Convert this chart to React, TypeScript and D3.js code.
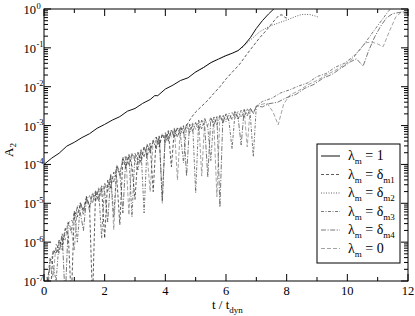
import * as d3 from "d3";

// time grid for the noisy early phase (t / t_dyn)
const NOISE_T = [
	0.1, 0.2, 0.3, 0.4, 0.5, 0.6, 0.7, 0.8, 0.9, 1.0,
	1.1, 1.2, 1.3, 1.4, 1.5, 1.6, 1.7, 1.8, 1.9, 2.0,
	2.1, 2.2, 2.3, 2.4, 2.5, 2.6, 2.7, 2.8, 2.9, 3.0,
	3.1, 3.2, 3.3, 3.4, 3.5, 3.6, 3.7, 3.8, 3.9, 4.0,
	4.1, 4.2, 4.3, 4.4, 4.5, 4.6, 4.7, 4.8, 4.9, 5.0,
	5.1, 5.2, 5.3, 5.4, 5.5, 5.6, 5.7, 5.8, 5.9, 6.0,
	6.1, 6.2, 6.3, 6.4, 6.5, 6.6, 6.7, 6.8, 6.9, 7.0,
];

// all amplitudes are log10(A2)
const L1_DATA: [number, number][] = [
	[0, -4.0], [0.25, -3.84], [0.5, -3.71], [0.75, -3.53], [1.0, -3.43], [1.25, -3.31],
	[1.5, -3.21], [1.75, -3.07], [2.0, -2.97], [2.25, -2.86], [2.5, -2.77], [2.75, -2.63],
	[3.0, -2.56], [3.25, -2.43], [3.5, -2.33], [3.65, -2.23], [3.75, -2.23], [4.0, -2.06],
	[4.25, -1.96], [4.5, -1.84], [4.75, -1.77], [5.0, -1.62], [5.25, -1.51], [5.5, -1.38],
	[5.75, -1.29], [6.0, -1.2], [6.2, -1.14], [6.4, -1.07], [6.6, -0.93], [6.8, -0.74],
	[7.0, -0.5], [7.2, -0.3], [7.4, -0.13], [7.6, 0.02],
];

const D2_DATA: [number, number][] = [
	[5.0, -1.63], [5.3, -1.49], [5.6, -1.34], [5.9, -1.23], [6.2, -1.14], [6.4, -1.07],
	[6.56, -0.98], [6.8, -0.8], [7.12, -0.58], [7.35, -0.48], [7.55, -0.41], [7.8, -0.34],
	[8.05, -0.27], [8.3, -0.19], [8.5, -0.14], [8.75, -0.14], [8.9, -0.17], [9.05, -0.21],
];

const D1_NOISE = [
	-6.9, -7.5, -6.2, -6.3, -5.95, -6.1, -5.65, -5.8, -7.5, -5.2,
	-5.35, -5.0, -5.2, -4.85, -5.05, -7.5, -4.7, -4.95, -4.6, -5.9,
	-4.4, -4.6, -4.2, -4.35, -5.55, -3.85, -4.1, -3.75, -4.05, -4.9,
	-3.7, -3.95, -3.55, -3.8, -3.45, -4.7, -3.3, -3.55, -3.22, -3.45,
	-3.15, -4.06, -3.08, -3.3, -3.03, -3.2, -3.0,
];
const D1_GROWTH: [number, number][] = [
	[4.85, -2.8], [5.0, -2.65], [5.2, -2.5], [5.4, -2.35], [5.6, -2.17], [5.8, -2.0],
	[6.0, -1.8], [6.2, -1.63], [6.45, -1.42], [6.7, -1.15], [6.9, -0.95], [7.1, -0.75],
	[7.35, -0.53], [7.6, -0.29], [7.75, -0.16], [7.85, -0.15], [7.95, -0.22], [8.05, -0.24],
];

const D3_NOISE = [
	-7.2, -6.4, -6.6, -7.0, -5.95, -6.2, -5.7, -5.5, -5.75, -5.2,
	-6.0, -5.0, -5.3, -4.82, -5.1, -4.75, -4.95, -4.62, -5.9, -4.5,
	-4.7, -4.28, -5.35, -4.05, -4.3, -3.82, -4.05, -3.75, -5.35, -3.7,
	-3.95, -3.62, -5.25, -3.48, -3.7, -3.38, -3.55, -3.25, -5.0, -3.17,
	-3.4, -3.1, -3.3, -3.05, -3.25, -3.96, -2.98, -3.2, -2.95, -4.73,
	-2.87, -3.1, -2.82, -3.05, -3.9, -2.76, -3.0, -2.72, -2.95, -2.7,
	-2.9, -3.6, -2.65, -2.85, -2.6, -2.8, -2.56, -2.72, -3.8, -2.5,
];
const D3_GROWTH: [number, number][] = [
	[7.2, -2.38], [7.5, -2.3], [7.8, -2.16], [8.1, -2.08], [8.4, -1.98], [8.7, -1.9],
	[9.0, -1.74], [9.3, -1.66], [9.6, -1.5], [9.9, -1.4], [10.2, -1.22], [10.4, -1.06],
	[10.6, -0.86], [10.8, -0.64], [11.0, -0.43], [11.2, -0.22], [11.35, -0.06], [11.45, 0.02],
];

const D4_NOISE = [
	-7.5, -6.5, -6.3, -6.15, -6.3, -5.8, -7.5, -5.5, -5.45, -5.4,
	-5.1, -5.25, -5.7, -4.9, -4.8, -5.0, -4.68, -4.85, -4.55, -4.7,
	-5.48, -4.3, -4.45, -4.02, -4.2, -5.25, -3.8, -4.0, -3.72, -3.9,
	-4.14, -3.65, -3.8, -3.5, -3.65, -3.4, -3.6, -3.28, -4.9, -3.2,
	-3.38, -3.12, -3.28, -3.06, -3.22, -3.0, -4.3, -2.96, -3.15, -2.92,
	-3.12, -2.86, -3.05, -4.32, -2.8, -3.0, -2.75, -5.1, -2.72, -2.9,
	-2.68, -2.85, -2.62, -2.8, -3.5, -2.58, -2.75, -2.55, -2.7, -2.5,
];
const D4_GROWTH: [number, number][] = [
	[7.2, -2.52], [7.4, -2.44], [7.7, -2.4], [8.0, -2.28], [8.3, -2.2], [8.6, -2.04],
	[8.9, -1.94], [9.2, -1.78], [9.5, -1.68], [9.8, -1.52], [10.1, -1.36], [10.3, -1.28],
	[10.52, -1.47], [10.7, -1.08], [10.9, -0.72], [11.1, -0.44], [11.3, -0.22], [11.5, -0.12],
	[11.7, -0.09], [11.85, -0.07], [12.0, -0.1],
];

const L0_NOISE = [
	-7.0, -6.6, -6.9, -6.05, -6.2, -5.78, -5.95, -5.48, -5.65, -6.2,
	-5.08, -4.98, -5.15, -4.85, -5.2, -4.72, -4.9, -4.6, -4.75, -4.48,
	-4.6, -4.25, -5.68, -4.05, -4.25, -3.85, -3.78, -5.3, -3.72, -3.85,
	-3.68, -3.85, -3.55, -3.75, -4.7, -3.36, -3.3, -3.5, -3.2, -3.35,
	-3.12, -3.3, -3.06, -4.4, -3.02, -3.18, -2.97, -3.15, -2.93, -3.1,
	-2.86, -4.3, -2.83, -3.0, -2.78, -2.95, -4.83, -2.73, -2.9, -2.7,
	-2.88, -2.66, -2.82, -2.63, -2.8, -2.6, -3.55, -2.55, -2.68, -2.5,
];
const L0_GROWTH: [number, number][] = [
	[7.2, -2.45], [7.35, -2.42], [7.55, -2.65], [7.72, -2.98], [7.9, -2.45], [8.1, -2.22],
	[8.4, -2.1], [8.7, -1.95], [9.0, -1.84], [9.3, -1.7], [9.6, -1.58], [9.9, -1.44],
	[10.2, -1.26], [10.4, -1.05], [10.6, -0.87], [10.8, -0.85], [11.0, -0.9], [11.18, -0.97],
	[11.4, -0.55], [11.6, -0.2], [11.75, -0.1], [11.9, -0.1], [12.0, -0.13],
];

const X_MAJOR = [0, 2, 4, 6, 8, 10, 12];
const X_MINOR = [1, 3, 5, 7, 9, 11];
const Y_EXP = [0, -1, -2, -3, -4, -5, -6, -7];

const withNoise = (noise: number[], growth: [number, number][]) =>
	noise.map((v, i) => [NOISE_T[i], v] as [number, number]).concat(growth);

const SERIES = [
	{ key: "l0", data: withNoise(L0_NOISE, L0_GROWTH), color: "#8c8c8c", dash: "4,2", w: 0.8, sub: "m", rhs: "0" },
	{ key: "d4", data: withNoise(D4_NOISE, D4_GROWTH), color: "#555", dash: "5,1.5,1.2,1.5", w: 0.8, sub: "m4" },
	{ key: "d3", data: withNoise(D3_NOISE, D3_GROWTH), color: "#555", dash: "3,1.5,1,1.5", w: 0.8, sub: "m3" },
	{ key: "d2", data: D2_DATA, color: "#555", dash: "1,1.5", w: 0.9, sub: "m2" },
	{ key: "d1", data: withNoise(D1_NOISE, D1_GROWTH), color: "#333", dash: "3,2", w: 0.8, sub: "m1" },
	{ key: "l1", data: L1_DATA, color: "#111", dash: "", w: 1, sub: "", rhs: "1" },
];

const LEGEND = ["l1", "d1", "d2", "d3", "d4", "l0"];

export default function App() {
	const W = 415, H = 316;
	const plot = { left: 44, right: 408, top: 9, bottom: 281 };

	const x = d3.scaleLinear().domain([0, 12]).range([plot.left, plot.right]);
	const y = d3.scaleLog().domain([1e-7, 1]).range([plot.bottom, plot.top]);

	const line = d3.line<[number, number]>()
		.x(d => x(d[0]))
		.y(d => y(Math.pow(10, d[1])));

	// minor log ticks 2..9 in every decade
	const yMinor: number[] = [];
	Y_EXP.slice(1).forEach(e => {
		for (let k = 2; k <= 9; k++) yMinor.push(k * Math.pow(10, e));
	});

	const MAJ = 7, MIN = 4;

	return (
		<svg width={W} height={H}
			style={{ position: "absolute", left: 0, top: 0, background: "#fff", fontFamily: "'Liberation Serif', 'DejaVu Serif', serif" }}>
			<defs>
				<clipPath id="plot-clip">
					<rect x={plot.left} y={plot.top} width={plot.right - plot.left} height={plot.bottom - plot.top} />
				</clipPath>
			</defs>

			{/* data lines */}
			<g clipPath="url(#plot-clip)" fill="none">
				{SERIES.map(s => (
					<path key={s.key} d={line(s.data) ?? ""} stroke={s.color} strokeWidth={s.w}
						strokeDasharray={s.dash || undefined} strokeLinejoin="round" />
				))}
			</g>

			{/* frame */}
			<rect x={plot.left} y={plot.top} width={plot.right - plot.left} height={plot.bottom - plot.top}
				fill="none" stroke="#000" strokeWidth={1} />

			{/* ticks on all four sides, pointing inward */}
			<g stroke="#000" strokeWidth={1}>
				{X_MAJOR.map(t => (
					<g key={"xM" + t}>
						<line x1={x(t)} x2={x(t)} y1={plot.bottom} y2={plot.bottom - MAJ} />
						<line x1={x(t)} x2={x(t)} y1={plot.top} y2={plot.top + MAJ} />
					</g>
				))}
				{X_MINOR.map(t => (
					<g key={"xm" + t}>
						<line x1={x(t)} x2={x(t)} y1={plot.bottom} y2={plot.bottom - MIN} />
						<line x1={x(t)} x2={x(t)} y1={plot.top} y2={plot.top + MIN} />
					</g>
				))}
				{Y_EXP.map(e => (
					<g key={"yM" + e}>
						<line x1={plot.left} x2={plot.left + MAJ} y1={y(Math.pow(10, e))} y2={y(Math.pow(10, e))} />
						<line x1={plot.right} x2={plot.right - MAJ} y1={y(Math.pow(10, e))} y2={y(Math.pow(10, e))} />
					</g>
				))}
				{yMinor.map((v, i) => (
					<g key={"ym" + i}>
						<line x1={plot.left} x2={plot.left + MIN} y1={y(v)} y2={y(v)} />
						<line x1={plot.right} x2={plot.right - MIN} y1={y(v)} y2={y(v)} />
					</g>
				))}
			</g>

			{/* x tick labels */}
			{X_MAJOR.map(t => (
				<text key={"xl" + t} x={x(t)} y={295} textAnchor="middle" fontSize={12.5}>{t}</text>
			))}

			{/* y tick labels */}
			{Y_EXP.map(e => (
				<g key={"yl" + e}>
					<text x={36} y={y(Math.pow(10, e)) + 5} textAnchor="end" fontSize={12.5}>10</text>
					<text x={36.5} y={y(Math.pow(10, e)) - 0.5} fontSize={8.5}>{e === 0 ? "0" : "-" + Math.abs(e)}</text>
				</g>
			))}

			{/* axis titles */}
			<text transform="translate(13,150) rotate(-90)" textAnchor="middle" fontSize={13}>
				A<tspan dy={3} fontSize={9}>2</tspan>
			</text>
			<text x={212} y={309} fontSize={13}>
				t / t<tspan dy={4} fontSize={9}>dyn</tspan>
			</text>

			{/* legend */}
			<rect x={317} y={144} width={83} height={119} fill="#fff" stroke="#000" strokeWidth={1} />
			{LEGEND.map((k, i) => {
				const s = SERIES.find(d => d.key === k)!;
				const ly = 156 + i * 18.5;
				return (
					<g key={"lg" + k}>
						<line x1={321} x2={340} y1={ly} y2={ly} stroke={s.color} strokeWidth={s.w}
							strokeDasharray={s.dash || undefined} />
						<text x={348} y={ly + 4} fontSize={14}>
							λ<tspan dy={4} fontSize={9}>m</tspan>
							<tspan dy={-4}> = </tspan>
							{s.rhs ? (
								<tspan>{s.rhs}</tspan>
							) : (
								<>
									<tspan>δ</tspan>
									<tspan dy={4} fontSize={9}>{s.sub}</tspan>
								</>
							)}
						</text>
					</g>
				);
			})}
		</svg>
	);
}
